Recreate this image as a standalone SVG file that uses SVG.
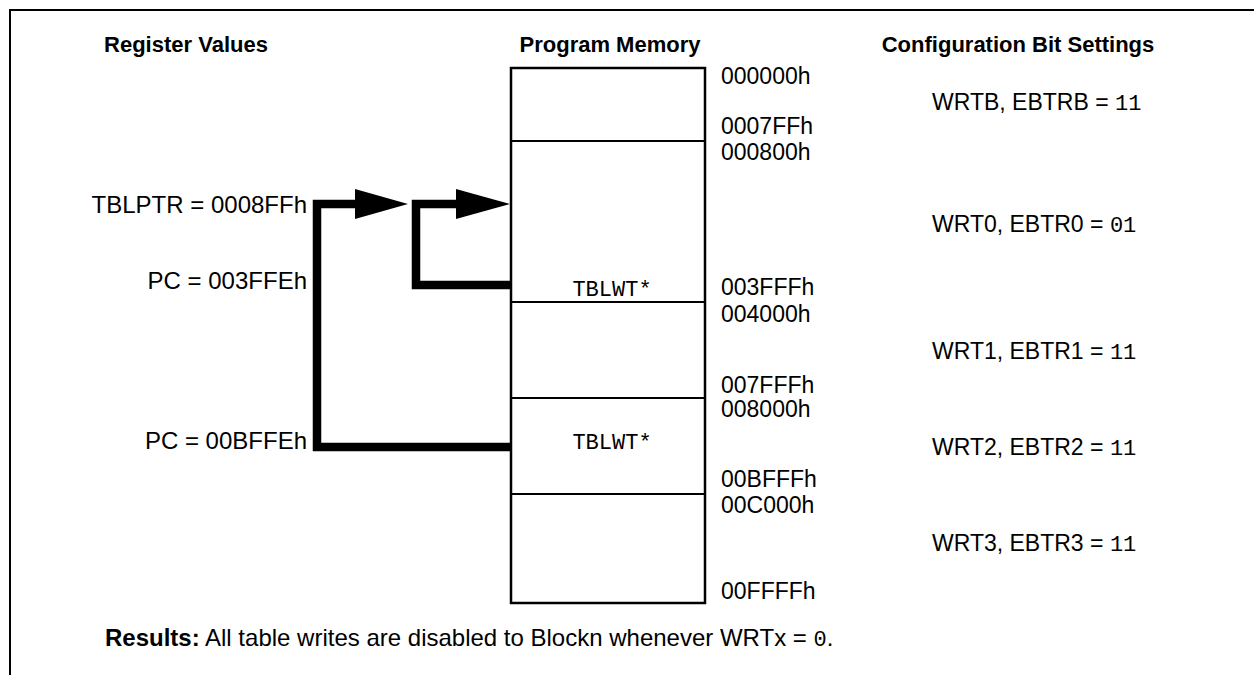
<svg xmlns="http://www.w3.org/2000/svg" width="1254" height="675" viewBox="0 0 1254 675">
<style>
.t{font-family:"Liberation Sans",Arial,sans-serif;font-size:23px;fill:#000}
.r{font-family:"Liberation Sans",Arial,sans-serif;font-size:24px;fill:#000}
.h{font-family:"Liberation Sans",Arial,sans-serif;font-size:22px;font-weight:bold;fill:#000}
.m{font-family:"Liberation Mono","Courier New",monospace;font-size:22px;fill:#000}
.box{fill:none;stroke:#000;stroke-width:2.5}
.div{stroke:#000;stroke-width:1.8}
.thick{fill:none;stroke:#000;stroke-width:8.5;stroke-linejoin:miter;stroke-linecap:butt}
</style>
<rect width="1254" height="675" fill="#fff"/>
<g id="frame">
<path d="M10,675 V10 H1254" fill="none" stroke="#000" stroke-width="2"/>
</g>
<g id="headers">
<text class="h" x="186" y="52" text-anchor="middle">Register Values</text>
<text class="h" x="610" y="52" text-anchor="middle">Program Memory</text>
<text class="h" x="1018" y="52" text-anchor="middle">Configuration Bit Settings</text>
</g>
<g id="memory">
<rect class="box" x="511" y="68" width="194" height="535"/>
<line class="div" x1="511" y1="141" x2="705" y2="141"/>
<line class="div" x1="511" y1="302" x2="705" y2="302"/>
<line class="div" x1="511" y1="398" x2="705" y2="398"/>
<line class="div" x1="511" y1="494" x2="705" y2="494"/>
<text class="m" x="612" y="296" text-anchor="middle">TBLWT*</text>
<text class="m" x="612" y="449" text-anchor="middle">TBLWT*</text>
</g>
<g id="addresses">
<text class="t" x="721" y="84">000000h</text>
<text class="t" x="721" y="134">0007FFh</text>
<text class="t" x="721" y="160">000800h</text>
<text class="t" x="721" y="295">003FFFh</text>
<text class="t" x="721" y="322">004000h</text>
<text class="t" x="721" y="393">007FFFh</text>
<text class="t" x="721" y="417">008000h</text>
<text class="t" x="721" y="487">00BFFFh</text>
<text class="t" x="721" y="513">00C000h</text>
<text class="t" x="721" y="599">00FFFFh</text>
</g>
<g id="registers">
<text class="r" x="307" y="213" text-anchor="end">TBLPTR = 0008FFh</text>
<text class="r" x="307" y="289" text-anchor="end">PC = 003FFEh</text>
<text class="r" x="307" y="449" text-anchor="end">PC = 00BFFEh</text>
</g>
<g id="config">
<text class="t" x="932" y="110">WRTB, EBTRB = <tspan class="m">11</tspan></text>
<text class="t" x="932" y="232">WRT0, EBTR0 = <tspan class="m">01</tspan></text>
<text class="t" x="932" y="359">WRT1, EBTR1 = <tspan class="m">11</tspan></text>
<text class="t" x="932" y="455">WRT2, EBTR2 = <tspan class="m">11</tspan></text>
<text class="t" x="932" y="551">WRT3, EBTR3 = <tspan class="m">11</tspan></text>
</g>
<g id="connectors">
<path class="thick" d="M511,447 H317 V204 H358"/>
<polygon points="355,189 408,204 355,219" fill="#000"/>
<path class="thick" d="M511,285 H416 V204 H458"/>
<polygon points="456,189 510,204 456,219" fill="#000"/>
</g>
<g id="results">
<text class="r" x="105" y="646"><tspan font-weight="bold">Results:</tspan> All table writes are disabled to Blockn whenever WRTx = <tspan class="m">0</tspan>.</text>
</g>
</svg>
